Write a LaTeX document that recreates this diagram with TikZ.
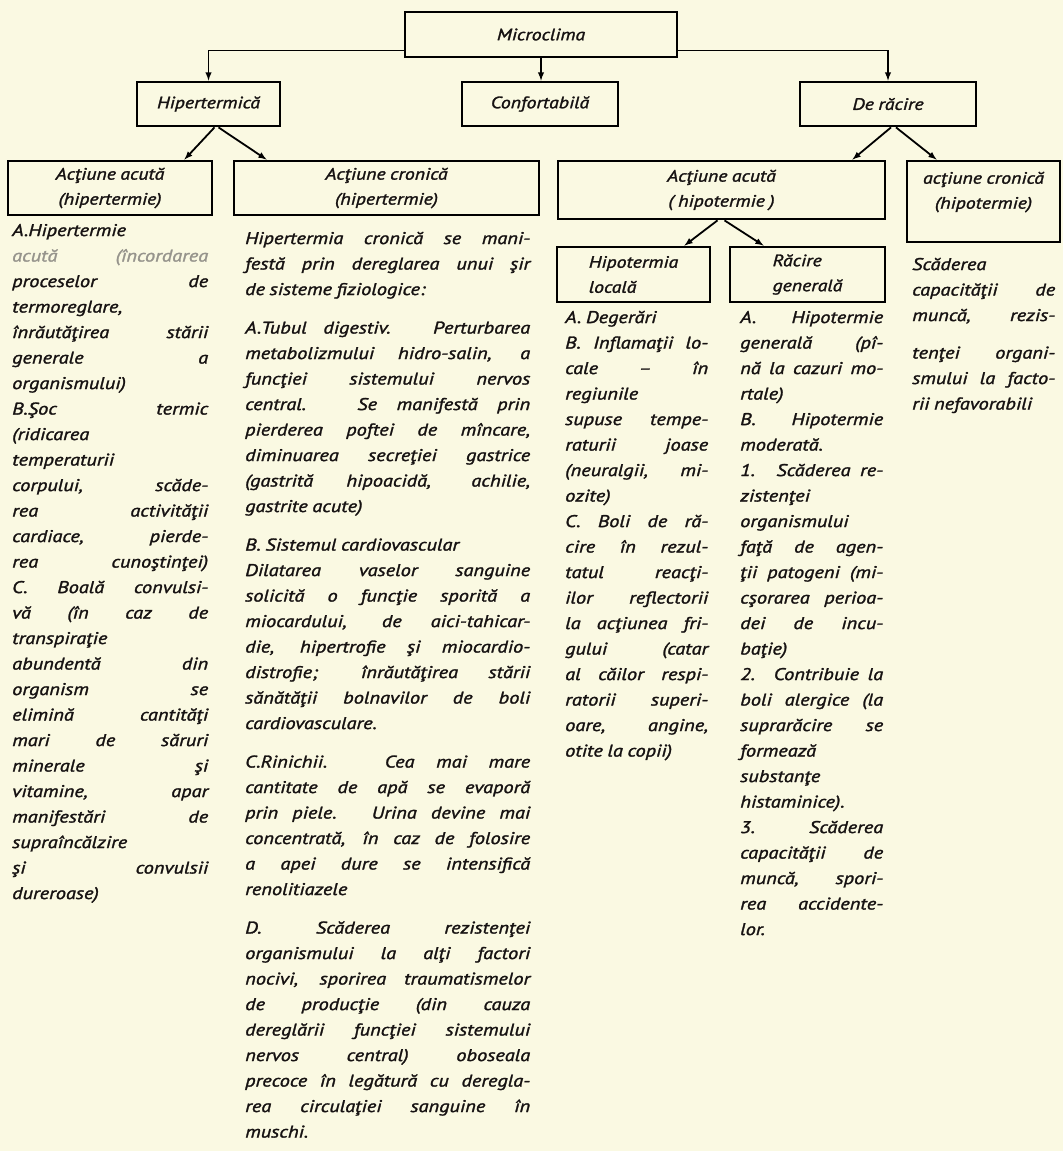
\documentclass[tikz,border=0pt]{standalone}
\usepackage{fontspec}
\setmainfont{PT Sans}[FakeStretch=1.2, WordSpace=0.85, ItalicFeatures={FakeBold=1.6}]
\usepackage{xcolor}
\definecolor{paper}{RGB}{250,249,226}
\definecolor{ink}{RGB}{22,18,18}
\definecolor{faded}{RGB}{150,148,140}
\newcommand{\bodyfont}{\fontsize{17}{25.5}\selectfont\itshape\parindent=0pt\parskip=0pt\tolerance=10000\hbadness=10000\hyphenpenalty=10000\exhyphenpenalty=10000}
\newcommand{\boxfont}{\fontsize{16.5}{25}\selectfont\itshape}
\newcommand{\pgap}{\par\vskip 13pt}

\begin{document}
\begin{tikzpicture}[x=1pt, y=-1pt, >=latex,
	box/.style={draw, line width=2.8pt, inner sep=0pt, align=center, font=\boxfont, text=ink},
	txt/.style={anchor=north west, inner sep=0pt, text width=#1, align=justify, font=\bodyfont, text=ink},
	link/.style={->, line width=1.8pt}]
	\useasboundingbox (0,0) rectangle (1063,1151);
	\fill[paper] (0,0) rectangle (1063,1151);
	% boxes
	\node[box, minimum width=272pt, minimum height=45pt] (micro) at (541,34.5) {Microclima};
	\node[box, minimum width=143pt, minimum height=44pt] (hiper) at (208.5,104) {Hipertermică};
	\node[box, minimum width=156pt, minimum height=44pt] (conf) at (540,104) {Confortabilă};
	\node[box, minimum width=176pt, minimum height=44pt] (racire) at (888,104) {De răcire};
	\node[box, minimum width=204pt, minimum height=54pt] (acuthip) at (110,188) {Acţiune acută\\(hipertermie)};
	\node[box, minimum width=305pt, minimum height=54pt] (cronhip) at (386.5,188) {Acţiune cronică\\(hipertermie)};
	\node[box, minimum width=327pt, minimum height=58pt] (acuthipo) at (721.5,190) {Acţiune acută\\( hipotermie )};
	\node[box, minimum width=153pt, minimum height=81pt] (cronhipo) at (983.5,201.5) {};
	\node[font=\boxfont, text=ink, align=center, inner sep=0pt, anchor=north] (cronhipotxt) at ([yshift=-12pt]cronhipo.north) {acţiune cronică\\(hipotermie)};
	\node[box, minimum width=153pt, minimum height=55pt, align=left] (locala) at (633.5,274.5) {Hipotermia\\locală};
	\node[box, minimum width=155pt, minimum height=55pt, align=left] (generala) at (807.5,274.5) {Răcire\\generală};
	% connectors
	\draw[link] ([yshift=8pt]micro.south west) -| (hiper.north);
	\draw[link] (micro.south) -- (micro.south |- conf.north);
	\draw[link] ([yshift=8pt]micro.south east) -| (racire.north);
	\draw[link] ([xshift=6pt]hiper.south) -- ([xshift=-29pt]acuthip.north east);
	\draw[link] ([xshift=10pt]hiper.south) -- ([xshift=34pt]cronhip.north west);
	\draw[link] ([xshift=3pt]racire.south) -- ([xshift=-34pt]acuthipo.north east);
	\draw[link] ([xshift=8pt]racire.south) -- ([xshift=31pt]cronhipo.north west);
	\draw[link] ([xshift=-4pt]acuthipo.south) -- ([xshift=-27pt]locala.north east);
	\draw[link] ([xshift=3pt]acuthipo.south) -- ([xshift=35pt]generala.north west);
	% texts
	\node[txt=196pt] (acuthiptxt) at (12,218) {\strut A.Hipertermie\linebreak \textcolor{faded}{acută (încordarea}\linebreak proceselor de\linebreak termoreglare,\linebreak înrăutăţirea stării\linebreak generale a\linebreak organismului)\linebreak B.Şoc termic\linebreak (ridicarea\linebreak temperaturii\linebreak corpului, scăde-\linebreak rea activităţii\linebreak cardiace, pierde-\linebreak rea cunoştinţei)\linebreak C. Boală convulsi-\linebreak vă (în caz de\linebreak transpiraţie\linebreak abundentă din\linebreak organism se\linebreak elimină cantităţi\linebreak mari de săruri\linebreak minerale şi\linebreak vitamine, apar\linebreak manifestări de\linebreak supraîncălzire\linebreak şi convulsii\linebreak dureroase)};
	\node[txt=285pt] (cronhiptxt) at (245,226) {\strut Hipertermia cronică se mani-\linebreak festă prin dereglarea unui şir\linebreak de sisteme fiziologice:\pgap
	A.Tubul digestiv. Perturbarea\linebreak metabolizmului hidro-salin, a\linebreak funcţiei sistemului nervos\linebreak central. Se manifestă prin\linebreak pierderea poftei de mîncare,\linebreak diminuarea secreţiei gastrice\linebreak (gastrită hipoacidă, achilie,\linebreak gastrite acute)\pgap
	B. Sistemul cardiovascular\\ Dilatarea vaselor sanguine\linebreak solicită o funcţie sporită a\linebreak miocardului, de aici-tahicar-\linebreak die, hipertrofie şi miocardio-\linebreak distrofie; înrăutăţirea stării\linebreak sănătăţii bolnavilor de boli\linebreak cardiovasculare.\pgap
	C.Rinichii. Cea mai mare\linebreak cantitate de apă se evaporă\linebreak prin piele. Urina devine mai\linebreak concentrată, în caz de folosire\linebreak a apei dure se intensifică\linebreak renolitiazele\pgap
	D. Scăderea rezistenţei\linebreak organismului la alţi factori\linebreak nocivi, sporirea traumatismelor\linebreak de producţie (din cauza\linebreak dereglării funcţiei sistemului\linebreak nervos central) oboseala\linebreak precoce în legătură cu deregla-\linebreak rea circulaţiei sanguine în\linebreak muschi.};
	\node[txt=143pt] (localatxt) at (565,305) {\strut A. Degerări\\ B. Inflamaţii lo-\linebreak cale – în\linebreak regiunile\linebreak supuse tempe-\linebreak raturii joase\linebreak (neuralgii, mi-\linebreak ozite)\\ C. Boli de ră-\linebreak cire în rezul-\linebreak tatul reacţi-\linebreak ilor reflectorii\linebreak la acţiunea fri-\linebreak gului (catar\linebreak al căilor respi-\linebreak ratorii superi-\linebreak oare, angine,\linebreak otite la copii)};
	\node[txt=143pt] (generalatxt) at (740,305) {\strut A. Hipotermie\linebreak generală (pî-\linebreak nă la cazuri mo-\linebreak rtale)\\ B. Hipotermie\linebreak moderată.\\ 1. Scăderea re-\linebreak zistenţei\linebreak organismului\linebreak faţă de agen-\linebreak ţii patogeni (mi-\linebreak cşorarea perioa-\linebreak dei de incu-\linebreak baţie)\\ 2. Contribuie la\linebreak boli alergice (la\linebreak suprarăcire se\linebreak formează\linebreak substanţe\linebreak histaminice).\\ 3. Scăderea\linebreak capacităţii de\linebreak muncă, spori-\linebreak rea accidente-\linebreak lor.};
	\node[txt=143pt] (cronhipotxt2) at (912,252) {\strut Scăderea\linebreak capacităţii de\linebreak muncă, rezis-\vadjust{\vskip 12pt}\linebreak tenţei organi-\linebreak smului la facto-\linebreak rii nefavorabili};
\end{tikzpicture}
\end{document}
